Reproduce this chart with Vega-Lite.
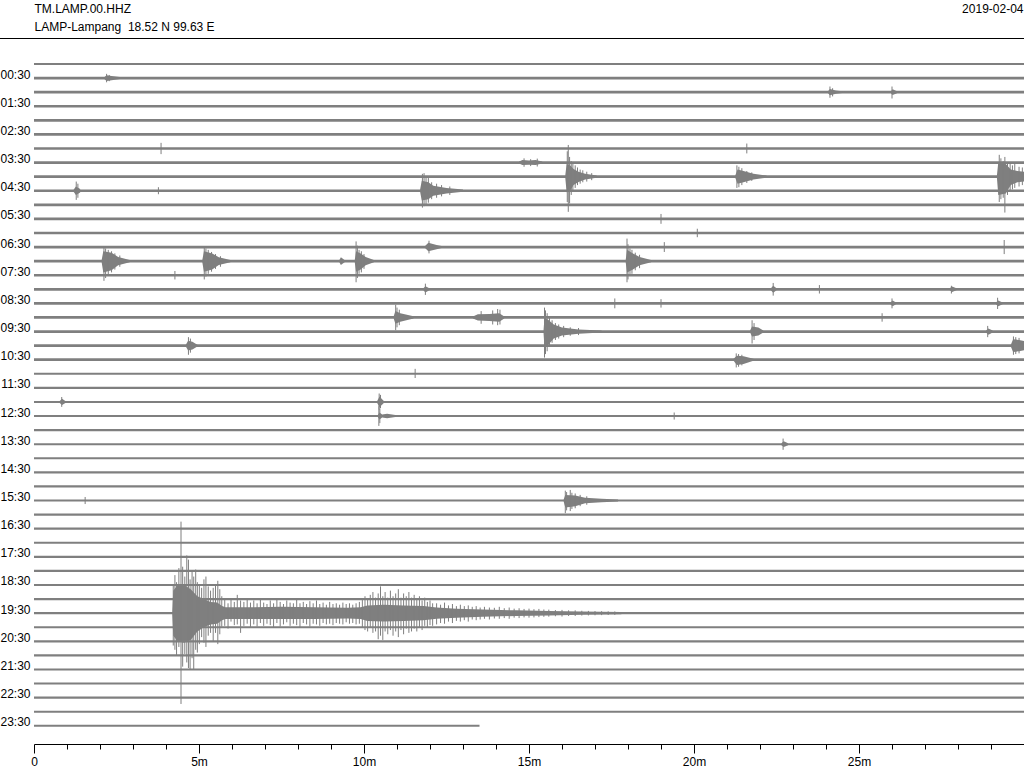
{
  "$schema": "https://vega.github.io/schema/vega-lite/v6.json",
  "width": 990,
  "height": 705,
  "autosize": "none",
  "padding": {"left": 34, "top": 39, "right": 0, "bottom": 24},
  "background": "white",
  "config": {
    "view": {"stroke": null},
    "font": "Liberation Sans",
    "axis": {"labelColor": "black", "titleColor": "black", "labelFontSize": 12, "titleFontSize": 12, "titleFontWeight": "normal", "grid": false, "labelFont": "Liberation Sans", "titleFont": "Liberation Sans"}
  },
  "datasets": {
    "frame": [{"x": -1.0303, "x2": 30, "y": -1.81}],
    "traces": [
      {"i":0,"s":0,"end":30,"n":0.15},{"i":1,"s":0,"end":30,"n":0.19},{"i":2,"s":0,"end":30,"n":0.19},{"i":3,"s":0,"end":30,"n":0.19},
      {"i":4,"s":0,"end":30,"n":0.19},{"i":5,"s":0,"end":30,"n":0.19},{"i":6,"s":0,"end":30,"n":0.19},{"i":7,"s":0,"end":30,"n":0.19},
      {"i":8,"s":0,"end":30,"n":0.19},{"i":9,"s":0,"end":30,"n":0.19},{"i":10,"s":0,"end":30,"n":0.19},{"i":11,"s":0,"end":30,"n":0.19},
      {"i":12,"s":0,"end":30,"n":0.19},{"i":13,"s":0,"end":30,"n":0.19},{"i":14,"s":0,"end":30,"n":0.19},{"i":15,"s":0,"end":30,"n":0.19},
      {"i":16,"s":0,"end":30,"n":0.19},{"i":17,"s":0,"end":30,"n":0.19},{"i":18,"s":0,"end":30,"n":0.19},{"i":19,"s":0,"end":30,"n":0.19},
      {"i":20,"s":0,"end":30,"n":0.19},{"i":21,"s":0,"end":30,"n":0.19},{"i":22,"s":0,"end":30,"n":0.15},{"i":23,"s":0,"end":30,"n":0.15},
      {"i":24,"s":0,"end":30,"n":0.15},{"i":25,"s":0,"end":30,"n":0.15},{"i":26,"s":0,"end":30,"n":0.15},{"i":27,"s":0,"end":30,"n":0.15},
      {"i":28,"s":0,"end":30,"n":0.15},{"i":29,"s":0,"end":30,"n":0.15},{"i":30,"s":0,"end":30,"n":0.15},{"i":31,"s":0,"end":30,"n":0.15},
      {"i":32,"s":0,"end":30,"n":0.15},{"i":33,"s":0,"end":30,"n":0.15},{"i":34,"s":0,"end":30,"n":0.15},{"i":35,"s":0,"end":30,"n":0.15},
      {"i":36,"s":0,"end":30,"n":0.15},{"i":37,"s":0,"end":30,"n":0.15},{"i":38,"s":0,"end":30,"n":0.15},{"i":39,"s":0,"end":30,"n":0.15},
      {"i":40,"s":0,"end":30,"n":0.15},{"i":41,"s":0,"end":30,"n":0.15},{"i":42,"s":0,"end":30,"n":0.15},{"i":43,"s":0,"end":30,"n":0.15},
      {"i":44,"s":0,"end":30,"n":0.15},{"i":45,"s":0,"end":30,"n":0.15},{"i":46,"s":0,"end":30,"n":0.15},{"i":47,"s":0,"end":13.5,"n":0.15}
    ],
    "env": [
      {"e":"e1","x":2.12,"a":0.95,"b":1.05},{"e":"e1","x":2.2,"a":0.8,"b":1.2},{"e":"e1","x":2.35,"a":0.85,"b":1.15},{"e":"e1","x":2.6,"a":0.93,"b":1.07},
      {"e":"e2","x":24.05,"a":1.95,"b":2.05},{"e":"e2","x":24.12,"a":1.78,"b":2.22},{"e":"e2","x":24.3,"a":1.88,"b":2.12},{"e":"e2","x":24.55,"a":1.95,"b":2.05},
      {"e":"e3","x":25.97,"a":1.93,"b":2.07},{"e":"e3","x":26.02,"a":1.8,"b":2.2},{"e":"e3","x":26.15,"a":1.93,"b":2.07},
      {"e":"e4","x":14.7,"a":6.93,"b":7.07},{"e":"e4","x":14.8,"a":6.82,"b":7.18},{"e":"e4","x":15.0,"a":6.85,"b":7.15},{"e":"e4","x":15.2,"a":6.82,"b":7.18},{"e":"e4","x":15.4,"a":6.93,"b":7.07},
      {"e":"e5","x":16.1,"a":7.9,"b":8.1},{"e":"e5","x":16.14,"a":7.1,"b":9.1},{"e":"e5","x":16.25,"a":7.2,"b":9.0},{"e":"e5","x":16.35,"a":7.45,"b":8.6},{"e":"e5","x":16.5,"a":7.65,"b":8.38},{"e":"e5","x":16.7,"a":7.8,"b":8.2},{"e":"e5","x":17.05,"a":7.92,"b":8.08},
      {"e":"e6","x":21.25,"a":7.92,"b":8.08},{"e":"e6","x":21.32,"a":7.5,"b":8.5},{"e":"e6","x":21.5,"a":7.6,"b":8.4},{"e":"e6","x":21.8,"a":7.8,"b":8.2},{"e":"e6","x":22.2,"a":7.92,"b":8.08},
      {"e":"e7","x":29.18,"a":7.9,"b":8.1},{"e":"e7","x":29.22,"a":7.0,"b":9.3},{"e":"e7","x":29.45,"a":7.1,"b":9.2},{"e":"e7","x":29.6,"a":7.5,"b":8.6},{"e":"e7","x":29.8,"a":7.6,"b":8.4},{"e":"e7","x":30.0,"a":7.65,"b":8.35},
      {"e":"e8","x":1.2,"a":8.93,"b":9.07},{"e":"e8","x":1.27,"a":8.7,"b":9.3},{"e":"e8","x":1.4,"a":8.88,"b":9.12},
      {"e":"e9","x":11.7,"a":8.92,"b":9.08},{"e":"e9","x":11.75,"a":8.3,"b":9.7},{"e":"e9","x":11.95,"a":8.4,"b":9.6},{"e":"e9","x":12.1,"a":8.65,"b":9.35},{"e":"e9","x":12.5,"a":8.8,"b":9.2},{"e":"e9","x":13.0,"a":8.92,"b":9.08},
      {"e":"e10","x":11.85,"a":12.93,"b":13.07},{"e":"e10","x":11.95,"a":12.7,"b":13.3},{"e":"e10","x":12.2,"a":12.85,"b":13.15},{"e":"e10","x":12.35,"a":12.93,"b":13.07},
      {"e":"e11","x":2.05,"a":13.92,"b":14.08},{"e":"e11","x":2.1,"a":13.3,"b":14.8},{"e":"e11","x":2.35,"a":13.4,"b":14.65},{"e":"e11","x":2.55,"a":13.7,"b":14.3},{"e":"e11","x":2.9,"a":13.92,"b":14.08},
      {"e":"e12","x":5.1,"a":13.92,"b":14.08},{"e":"e12","x":5.15,"a":13.3,"b":14.75},{"e":"e12","x":5.4,"a":13.45,"b":14.6},{"e":"e12","x":5.6,"a":13.72,"b":14.28},{"e":"e12","x":5.95,"a":13.92,"b":14.08},
      {"e":"e13","x":9.25,"a":13.93,"b":14.07},{"e":"e13","x":9.3,"a":13.72,"b":14.28},{"e":"e13","x":9.42,"a":13.93,"b":14.07},
      {"e":"e14","x":9.72,"a":13.92,"b":14.08},{"e":"e14","x":9.76,"a":13.3,"b":14.75},{"e":"e14","x":9.9,"a":13.45,"b":14.6},{"e":"e14","x":10.05,"a":13.7,"b":14.3},{"e":"e14","x":10.3,"a":13.92,"b":14.08},
      {"e":"e15","x":17.93,"a":13.92,"b":14.08},{"e":"e15","x":17.97,"a":13.2,"b":14.8},{"e":"e15","x":18.15,"a":13.45,"b":14.6},{"e":"e15","x":18.35,"a":13.7,"b":14.3},{"e":"e15","x":18.7,"a":13.92,"b":14.08},
      {"e":"e16","x":11.8,"a":15.93,"b":16.07},{"e":"e16","x":11.86,"a":15.78,"b":16.22},{"e":"e16","x":11.98,"a":15.93,"b":16.07},
      {"e":"e17","x":22.33,"a":15.93,"b":16.07},{"e":"e17","x":22.4,"a":15.75,"b":16.25},{"e":"e17","x":22.5,"a":15.93,"b":16.07},
      {"e":"e18","x":27.75,"a":15.93,"b":16.07},{"e":"e18","x":27.82,"a":15.8,"b":16.2},{"e":"e18","x":27.95,"a":15.93,"b":16.07},
      {"e":"e19","x":25.95,"a":16.93,"b":17.07},{"e":"e19","x":26.02,"a":16.8,"b":17.2},{"e":"e19","x":26.12,"a":16.93,"b":17.07},
      {"e":"e20","x":29.15,"a":16.93,"b":17.07},{"e":"e20","x":29.22,"a":16.8,"b":17.2},{"e":"e20","x":29.35,"a":16.93,"b":17.07},
      {"e":"e21","x":10.9,"a":17.92,"b":18.08},{"e":"e21","x":10.95,"a":17.55,"b":18.45},{"e":"e21","x":11.1,"a":17.7,"b":18.3},{"e":"e21","x":11.5,"a":17.92,"b":18.08},
      {"e":"e22","x":13.3,"a":17.93,"b":18.07},{"e":"e22","x":13.45,"a":17.78,"b":18.22},{"e":"e22","x":13.8,"a":17.75,"b":18.25},{"e":"e22","x":14.1,"a":17.7,"b":18.3},{"e":"e22","x":14.25,"a":17.93,"b":18.07},
      {"e":"e23","x":15.44,"a":18.92,"b":19.08},{"e":"e23","x":15.47,"a":18.0,"b":20.2},{"e":"e23","x":15.6,"a":18.2,"b":19.9},{"e":"e23","x":15.75,"a":18.5,"b":19.5},{"e":"e23","x":16.0,"a":18.72,"b":19.28},{"e":"e23","x":16.5,"a":18.85,"b":19.15},{"e":"e23","x":17.2,"a":18.93,"b":19.07},
      {"e":"e24","x":21.7,"a":18.93,"b":19.07},{"e":"e24","x":21.76,"a":18.65,"b":19.35},{"e":"e24","x":21.95,"a":18.72,"b":19.28},{"e":"e24","x":22.1,"a":18.93,"b":19.07},
      {"e":"e25","x":28.85,"a":18.93,"b":19.07},{"e":"e25","x":28.92,"a":18.78,"b":19.22},{"e":"e25","x":29.05,"a":18.93,"b":19.07},
      {"e":"e26","x":4.6,"a":19.93,"b":20.07},{"e":"e26","x":4.67,"a":19.65,"b":20.35},{"e":"e26","x":4.8,"a":19.72,"b":20.28},{"e":"e26","x":4.95,"a":19.93,"b":20.07},
      {"e":"e27","x":29.6,"a":19.93,"b":20.07},{"e":"e27","x":29.67,"a":19.55,"b":20.45},{"e":"e27","x":29.85,"a":19.6,"b":20.4},{"e":"e27","x":30.0,"a":19.68,"b":20.32},
      {"e":"e28","x":21.2,"a":20.93,"b":21.07},{"e":"e28","x":21.3,"a":20.72,"b":21.38},{"e":"e28","x":21.5,"a":20.76,"b":21.3},{"e":"e28","x":21.8,"a":20.93,"b":21.07},
      {"e":"e29","x":0.78,"a":23.93,"b":24.07},{"e":"e29","x":0.85,"a":23.78,"b":24.22},{"e":"e29","x":0.95,"a":23.93,"b":24.07},
      {"e":"e30","x":10.4,"a":23.93,"b":24.07},{"e":"e30","x":10.47,"a":23.62,"b":24.38},{"e":"e30","x":10.6,"a":23.93,"b":24.07},
      {"e":"e31","x":10.42,"a":24.93,"b":25.07},{"e":"e31","x":10.47,"a":24.75,"b":25.25},{"e":"e31","x":10.55,"a":24.9,"b":25.1},{"e":"e31","x":10.7,"a":24.84,"b":25.16},{"e":"e31","x":10.95,"a":24.93,"b":25.07},
      {"e":"e32","x":22.65,"a":26.93,"b":27.07},{"e":"e32","x":22.72,"a":26.8,"b":27.2},{"e":"e32","x":22.85,"a":26.93,"b":27.07},
      {"e":"e33","x":16.05,"a":30.93,"b":31.07},{"e":"e33","x":16.1,"a":30.6,"b":31.5},{"e":"e33","x":16.4,"a":30.65,"b":31.4},{"e":"e33","x":16.7,"a":30.8,"b":31.2},{"e":"e33","x":17.2,"a":30.88,"b":31.12},{"e":"e33","x":17.7,"a":30.93,"b":31.07},
      {"e":"q","x":4.19,"a":38.9,"b":39.1},{"e":"q","x":4.22,"a":37.4,"b":40.6},{"e":"q","x":4.35,"a":37.0,"b":41.0},{"e":"q","x":4.55,"a":37.0,"b":41.1},{"e":"q","x":4.75,"a":37.3,"b":40.9},{"e":"q","x":4.95,"a":37.8,"b":40.3},{"e":"q","x":5.15,"a":38.0,"b":40.0},{"e":"q","x":5.35,"a":38.2,"b":39.8},{"e":"q","x":5.55,"a":38.25,"b":39.75},{"e":"q","x":5.7,"a":38.5,"b":39.5},{"e":"q","x":5.8,"a":38.58,"b":39.42},{"e":"q","x":6.5,"a":38.58,"b":39.42},{"e":"q","x":7.5,"a":38.55,"b":39.42},{"e":"q","x":8.5,"a":38.58,"b":39.42},{"e":"q","x":9.5,"a":38.62,"b":39.38},{"e":"q","x":9.9,"a":38.58,"b":39.42},{"e":"q","x":10.1,"a":38.45,"b":39.55},{"e":"q","x":10.6,"a":38.4,"b":39.6},{"e":"q","x":11.2,"a":38.45,"b":39.55},{"e":"q","x":11.8,"a":38.5,"b":39.5},{"e":"q","x":12.2,"a":38.6,"b":39.4},{"e":"q","x":12.8,"a":38.68,"b":39.32},{"e":"q","x":13.6,"a":38.74,"b":39.26},{"e":"q","x":14.6,"a":38.8,"b":39.2},{"e":"q","x":15.6,"a":38.84,"b":39.16},{"e":"q","x":16.6,"a":38.88,"b":39.12},{"e":"q","x":17.8,"a":38.92,"b":39.08}
    ],
    "spk": [
      {"x":2.2,"a":0.7,"b":1.3},{"x":2.28,"a":0.78,"b":1.22},{"x":24.12,"a":1.6,"b":2.4},{"x":24.2,"a":1.72,"b":2.3},{"x":26.0,"a":1.6,"b":2.45},
      {"x":3.85,"a":5.6,"b":6.4},{"x":21.6,"a":5.65,"b":6.35},{"x":14.85,"a":6.7,"b":7.3},{"x":15.25,"a":6.72,"b":7.28},{"x":15.05,"a":6.76,"b":7.25},
      {"x":16.16,"a":6.2,"b":9.8},{"x":16.19,"a":5.75,"b":10.5},{"x":16.23,"a":6.6,"b":9.9},{"x":16.28,"a":6.9,"b":9.3},{"x":16.33,"a":7.1,"b":9.0},{"x":16.4,"a":7.2,"b":8.8},{"x":16.47,"a":7.35,"b":8.6},{"x":16.55,"a":7.5,"b":8.5},{"x":16.63,"a":7.55,"b":8.4},{"x":16.75,"a":7.65,"b":8.35},{"x":16.9,"a":7.75,"b":8.25},
      {"x":21.3,"a":7.2,"b":8.8},{"x":21.36,"a":7.3,"b":8.75},{"x":21.45,"a":7.4,"b":8.6},{"x":21.6,"a":7.6,"b":8.45},{"x":21.75,"a":7.7,"b":8.3},
      {"x":29.25,"a":6.45,"b":9.8},{"x":29.3,"a":6.7,"b":9.6},{"x":29.37,"a":6.9,"b":9.5},{"x":29.42,"a":6.6,"b":10.55},{"x":29.5,"a":7.0,"b":9.3},{"x":29.58,"a":7.1,"b":9.0},{"x":29.65,"a":7.2,"b":8.9},{"x":29.72,"a":7.1,"b":8.8},{"x":29.85,"a":7.3,"b":8.7},{"x":29.95,"a":7.35,"b":8.6},
      {"x":1.28,"a":8.35,"b":9.65},{"x":1.33,"a":8.5,"b":9.5},{"x":3.77,"a":8.75,"b":9.25},
      {"x":11.77,"a":7.8,"b":10.2},{"x":11.82,"a":7.75,"b":10.1},{"x":11.88,"a":8.0,"b":10.0},{"x":11.95,"a":8.1,"b":9.85},{"x":12.05,"a":8.4,"b":9.6},{"x":12.2,"a":8.5,"b":9.5},{"x":12.35,"a":8.6,"b":9.4},{"x":12.6,"a":8.7,"b":9.3},
      {"x":19.0,"a":10.65,"b":11.35},{"x":20.1,"a":11.7,"b":12.3},
      {"x":11.97,"a":12.55,"b":13.45},{"x":19.1,"a":12.65,"b":13.35},{"x":29.4,"a":12.5,"b":13.5},
      {"x":2.12,"a":13.0,"b":15.4},{"x":2.17,"a":13.1,"b":15.2},{"x":2.25,"a":13.2,"b":15.0},{"x":2.35,"a":13.3,"b":14.8},{"x":2.45,"a":13.45,"b":14.6},{"x":2.6,"a":13.6,"b":14.4},
      {"x":5.16,"a":13.0,"b":15.3},{"x":5.21,"a":13.1,"b":15.1},{"x":5.28,"a":13.2,"b":14.9},{"x":5.38,"a":13.35,"b":14.75},{"x":5.5,"a":13.5,"b":14.55},{"x":5.65,"a":13.65,"b":14.4},
      {"x":9.76,"a":12.6,"b":15.5},{"x":9.8,"a":12.9,"b":15.2},{"x":9.85,"a":13.2,"b":14.9},{"x":9.92,"a":13.3,"b":14.8},{"x":10.0,"a":13.5,"b":14.55},
      {"x":17.97,"a":12.4,"b":15.5},{"x":18.0,"a":12.8,"b":15.3},{"x":18.06,"a":13.1,"b":15.0},{"x":18.12,"a":13.2,"b":14.9},{"x":18.22,"a":13.4,"b":14.65},{"x":18.35,"a":13.55,"b":14.5},
      {"x":4.27,"a":14.7,"b":15.3},
      {"x":11.86,"a":15.6,"b":16.4},{"x":22.4,"a":15.55,"b":16.45},{"x":23.8,"a":15.7,"b":16.3},{"x":27.8,"a":15.75,"b":16.3},
      {"x":17.6,"a":16.65,"b":17.35},{"x":19.0,"a":16.7,"b":17.3},{"x":26.0,"a":16.65,"b":17.35},{"x":29.2,"a":16.6,"b":17.4},
      {"x":10.96,"a":17.1,"b":18.9},{"x":11.0,"a":17.3,"b":18.7},{"x":11.07,"a":17.45,"b":18.55},{"x":13.55,"a":17.55,"b":18.45},{"x":13.9,"a":17.5,"b":18.5},{"x":14.05,"a":17.4,"b":18.55},{"x":14.12,"a":17.45,"b":18.5},{"x":25.7,"a":17.7,"b":18.3},
      {"x":15.47,"a":17.3,"b":20.85},{"x":15.5,"a":17.5,"b":20.6},{"x":15.55,"a":17.7,"b":20.4},{"x":15.62,"a":18.0,"b":20.1},{"x":15.7,"a":18.2,"b":19.8},{"x":15.8,"a":18.4,"b":19.6},{"x":15.9,"a":18.5,"b":19.5},{"x":16.05,"a":18.6,"b":19.4},{"x":16.25,"a":18.7,"b":19.3},{"x":16.5,"a":18.75,"b":19.25},{"x":21.76,"a":18.2,"b":19.85},{"x":21.82,"a":18.4,"b":19.6},{"x":28.9,"a":18.6,"b":19.4},
      {"x":4.68,"a":19.4,"b":20.65},{"x":4.74,"a":19.5,"b":20.5},{"x":29.68,"a":19.35,"b":20.65},{"x":29.75,"a":19.4,"b":20.6},{"x":29.85,"a":19.45,"b":20.55},
      {"x":21.28,"a":20.55,"b":21.55},{"x":21.35,"a":20.6,"b":21.5},{"x":21.45,"a":20.65,"b":21.4},
      {"x":11.55,"a":21.65,"b":22.3},
      {"x":0.84,"a":23.65,"b":24.35},{"x":10.46,"a":23.4,"b":24.55},{"x":10.5,"a":23.5,"b":24.45},
      {"x":10.45,"a":24.3,"b":25.7},{"x":10.48,"a":24.5,"b":25.5},{"x":19.4,"a":24.75,"b":25.25},
      {"x":22.7,"a":26.6,"b":27.4},
      {"x":16.1,"a":30.3,"b":31.9},{"x":16.14,"a":30.4,"b":31.7},{"x":16.25,"a":30.25,"b":31.75},{"x":16.3,"a":30.45,"b":31.6},{"x":16.4,"a":30.5,"b":31.55},{"x":16.55,"a":30.6,"b":31.4},{"x":16.75,"a":30.7,"b":31.3},{"x":1.55,"a":30.75,"b":31.25},
      {"x":4.22,"a":37.0,"b":41.3},{"x":4.27,"a":36.3,"b":41.6},{"x":4.32,"a":36.8,"b":42.0},{"x":4.39,"a":35.8,"b":41.4},{"x":4.455,"a":32.5,"b":45.45},{"x":4.505,"a":35.7,"b":42.8},{"x":4.57,"a":36.4,"b":41.9},{"x":4.63,"a":34.9,"b":42.5},{"x":4.68,"a":35.2,"b":42.9},{"x":4.73,"a":36.6,"b":43.0},{"x":4.79,"a":36.0,"b":42.2},{"x":4.84,"a":36.4,"b":43.0},{"x":4.9,"a":35.9,"b":41.6},{"x":4.95,"a":36.8,"b":41.8},{"x":5.01,"a":37.0,"b":41.2},{"x":5.08,"a":37.2,"b":40.7},{"x":5.15,"a":36.6,"b":41.1},{"x":5.21,"a":36.4,"b":41.4},{"x":5.28,"a":37.1,"b":40.6},{"x":5.35,"a":37.4,"b":40.4},{"x":5.43,"a":37.2,"b":41.0},{"x":5.5,"a":37.0,"b":40.4},{"x":5.57,"a":36.7,"b":41.2},{"x":5.63,"a":37.3,"b":40.5},{"x":5.69,"a":37.8,"b":39.96},
      {"x":5.78,"a":38.0,"b":39.9},{"x":5.88,"a":38.3,"b":40.1},{"x":5.97,"a":37.95,"b":39.6},{"x":6.07,"a":38.2,"b":39.85},{"x":6.16,"a":37.7,"b":39.8},{"x":6.26,"a":38.1,"b":40.4},{"x":6.36,"a":38.2,"b":39.9},{"x":6.46,"a":38.05,"b":39.75},{"x":6.56,"a":38.25,"b":40.0},{"x":6.66,"a":38.1,"b":39.8},{"x":6.76,"a":38.3,"b":39.95},{"x":6.86,"a":38.0,"b":39.7},{"x":6.96,"a":38.25,"b":39.9},{"x":7.06,"a":38.35,"b":39.75},{"x":7.16,"a":38.1,"b":39.85},{"x":7.26,"a":38.3,"b":40.0},{"x":7.36,"a":38.0,"b":39.7},{"x":7.46,"a":38.2,"b":39.95},{"x":7.56,"a":38.35,"b":39.8},{"x":7.66,"a":38.1,"b":39.65},{"x":7.76,"a":38.25,"b":39.9},{"x":7.86,"a":38.3,"b":39.75},{"x":7.96,"a":38.05,"b":39.85},{"x":8.06,"a":38.3,"b":40.0},{"x":8.16,"a":38.2,"b":39.7},{"x":8.26,"a":38.35,"b":39.8},{"x":8.36,"a":38.15,"b":39.95},{"x":8.46,"a":38.3,"b":39.75},{"x":8.56,"a":38.1,"b":39.8},{"x":8.66,"a":38.35,"b":39.9},{"x":8.76,"a":38.25,"b":39.7},{"x":8.86,"a":38.4,"b":39.8},{"x":8.96,"a":38.2,"b":39.75},{"x":9.06,"a":38.35,"b":39.85},{"x":9.16,"a":38.3,"b":39.7},{"x":9.26,"a":38.4,"b":39.75},{"x":9.36,"a":38.25,"b":39.8},{"x":9.46,"a":38.35,"b":39.65},{"x":9.56,"a":38.3,"b":39.75},{"x":9.66,"a":38.4,"b":39.7},{"x":9.76,"a":38.3,"b":39.8},{"x":9.86,"a":38.2,"b":39.75},
      {"x":9.95,"a":38.0,"b":40.0},{"x":10.03,"a":37.8,"b":40.2},{"x":10.11,"a":38.0,"b":40.3},{"x":10.19,"a":37.7,"b":40.0},{"x":10.27,"a":37.5,"b":40.4},{"x":10.35,"a":37.9,"b":40.3},{"x":10.43,"a":37.6,"b":40.85},{"x":10.5,"a":37.1,"b":40.6},{"x":10.57,"a":37.8,"b":40.9},{"x":10.64,"a":37.5,"b":40.3},{"x":10.72,"a":37.9,"b":40.5},{"x":10.8,"a":37.4,"b":40.2},{"x":10.88,"a":37.8,"b":40.6},{"x":10.96,"a":37.6,"b":40.3},{"x":11.04,"a":37.3,"b":40.7},{"x":11.12,"a":37.9,"b":40.2},{"x":11.2,"a":37.6,"b":40.5},{"x":11.28,"a":37.8,"b":40.1},{"x":11.36,"a":37.5,"b":40.4},{"x":11.44,"a":37.9,"b":40.3},{"x":11.52,"a":37.7,"b":40.1},{"x":11.6,"a":38.0,"b":40.3},{"x":11.68,"a":37.8,"b":40.0},{"x":11.76,"a":38.1,"b":40.2},{"x":11.84,"a":37.9,"b":39.9},{"x":11.92,"a":38.2,"b":40.0},{"x":12.0,"a":38.1,"b":39.85},{"x":12.08,"a":38.3,"b":39.9},
      {"x":12.2,"a":38.3,"b":39.8},{"x":12.32,"a":38.4,"b":39.7},{"x":12.44,"a":38.25,"b":39.75},{"x":12.56,"a":38.45,"b":39.6},{"x":12.68,"a":38.35,"b":39.7},{"x":12.8,"a":38.5,"b":39.55},{"x":12.92,"a":38.4,"b":39.6},{"x":13.04,"a":38.5,"b":39.5},{"x":13.16,"a":38.45,"b":39.6},{"x":13.28,"a":38.55,"b":39.45},{"x":13.4,"a":38.5,"b":39.5},{"x":13.52,"a":38.6,"b":39.45},
      {"x":13.65,"a":38.55,"b":39.4},{"x":13.8,"a":38.6,"b":39.45},{"x":13.95,"a":38.62,"b":39.38},{"x":14.1,"a":38.55,"b":39.4},{"x":14.25,"a":38.65,"b":39.35},{"x":14.4,"a":38.6,"b":39.4},{"x":14.55,"a":38.68,"b":39.32},{"x":14.7,"a":38.65,"b":39.35},{"x":14.85,"a":38.7,"b":39.3},{"x":15.0,"a":38.68,"b":39.32},{"x":15.15,"a":38.72,"b":39.3},{"x":15.3,"a":38.7,"b":39.28},{"x":15.45,"a":38.74,"b":39.26},
      {"x":15.6,"a":38.75,"b":39.25},{"x":15.8,"a":38.78,"b":39.22},{"x":16.0,"a":38.77,"b":39.24},{"x":16.2,"a":38.8,"b":39.2},{"x":16.4,"a":38.8,"b":39.2},{"x":16.6,"a":38.83,"b":39.17},{"x":16.8,"a":38.84,"b":39.16},{"x":17.0,"a":38.85,"b":39.15},{"x":17.2,"a":38.86,"b":39.14},{"x":17.4,"a":38.87,"b":39.13},{"x":17.6,"a":38.88,"b":39.12}
    ]
  },
  "layer": [
    {
      "data": {"name": "frame"},
      "mark": {"type": "rule", "color": "black", "strokeWidth": 1},
      "encoding": {
        "x": {"field": "x", "type": "quantitative", "scale": {"domain": [0, 30], "nice": false, "zero": false},
              "axis": {"orient": "top", "domain": false, "ticks": false, "labels": false, "grid": false,
                       "title": "2019-02-04", "titleX": 989, "titleY": -26.5, "titleAlign": "right", "titleBaseline": "alphabetic", "titleAngle": 0}},
        "x2": {"field": "x2"},
        "y": {"field": "y", "type": "quantitative", "scale": {"domain": [-1.7754, 48.292], "reverse": true, "nice": false, "zero": false}, "axis": null}
      }
    },
    {
      "data": {"name": "traces"},
      "mark": {"type": "rule", "color": "#7f7f7f"},
      "encoding": {
        "x": {"field": "s", "type": "quantitative", "scale": {"domain": [0, 30], "nice": false, "zero": false},
              "axis": {"orient": "bottom", "values": [0, 5, 10, 15, 20, 25],
                       "labelExpr": "datum.value === 0 ? '0' : datum.value + 'm'",
                       "labelFlush": false, "labelOverlap": false, "domainColor": "black", "domainWidth": 1, "tickColor": "black", "tickWidth": 1,
                       "tickSize": 9, "labelPadding": 3, "title": null, "grid": false}},
        "x2": {"field": "end"},
        "y": {"field": "i", "type": "quantitative", "scale": {"domain": [-1.7754, 48.292], "reverse": true, "nice": false, "zero": false},
              "axis": {"orient": "left", "values": [1,3,5,7,9,11,13,15,17,19,21,23,25,27,29,31,33,35,37,39,41,43,45,47],
                       "labelExpr": "(floor(datum.value/2) < 10 ? '0' : '') + floor(datum.value/2) + ':30'",
                       "domain": false, "ticks": false, "grid": false, "labelPadding": 4, "labelBaseline": "alphabetic", "labelOverlap": false,
                       "title": ["TM.LAMP.00.HHZ", "LAMP-Lampang\u00a0 18.52 N 99.63 E"], "titleAngle": 0, "titleAlign": "left", "titleBaseline": "alphabetic",
                       "titleX": 0, "titleY": -26.5, "titleLineHeight": 18}},
        "strokeWidth": {"field": "n", "type": "quantitative", "scale": {"domain": [0, 1], "range": [0, 14.08]}, "legend": null}
      }
    },
    {
      "data": {"name": "env"},
      "mark": {"type": "area", "color": "#7f7f7f", "interpolate": "linear"},
      "encoding": {
        "x": {"field": "x", "type": "quantitative", "axis": null},
        "y": {"field": "a", "type": "quantitative", "axis": null},
        "y2": {"field": "b"},
        "detail": {"field": "e", "type": "nominal"}
      }
    },
    {
      "data": {"name": "spk"},
      "mark": {"type": "rule", "color": "#7f7f7f", "strokeWidth": 1},
      "encoding": {
        "x": {"field": "x", "type": "quantitative",
              "axis": {"orient": "bottom", "values": [1,2,3,4,6,7,8,9,11,12,13,14,16,17,18,19,21,22,23,24,26,27,28,29],
                       "domain": false, "labels": false, "tickColor": "black", "tickWidth": 1, "tickSize": 5, "title": null, "grid": false}},
        "y": {"field": "a", "type": "quantitative", "axis": null},
        "y2": {"field": "b"}
      }
    }
  ],
  "resolve": {"axis": {"x": "independent", "y": "independent"}}
}
